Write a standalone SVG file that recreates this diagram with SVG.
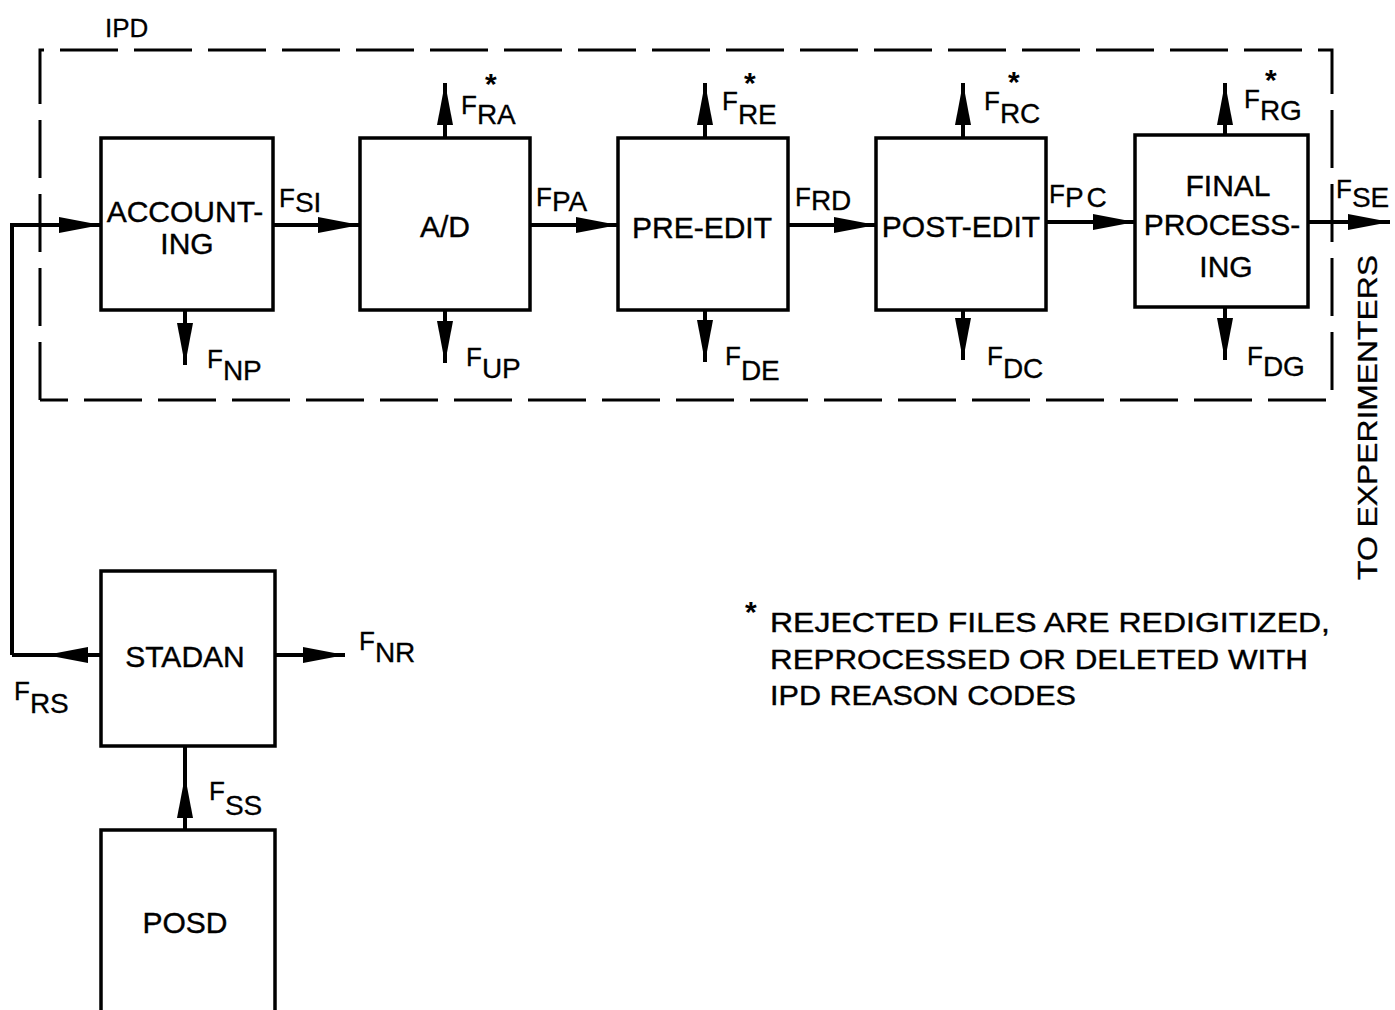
<svg xmlns="http://www.w3.org/2000/svg" width="1395" height="1010" viewBox="0 0 1395 1010">
<style>
  .box{fill:#fff;stroke:#000;stroke-width:3.5}
  .lbl{font-family:"Liberation Sans",Arial,sans-serif;font-size:30px;fill:#000;text-anchor:middle;stroke:#000;stroke-width:0.4}
  .f{font-family:"Liberation Sans",Arial,sans-serif;font-size:26px;fill:#000;stroke:#000;stroke-width:0.3}
  .s{font-size:28px}
  .star{font-family:"Liberation Sans",Arial,sans-serif;font-size:30px;font-weight:bold;fill:#000}
  .note{font-family:"Liberation Sans",Arial,sans-serif;font-size:28px;fill:#000;stroke:#000;stroke-width:0.4}
  .ln{fill:none;stroke:#000;stroke-width:4}
  .dash{fill:none;stroke:#000;stroke-width:3;stroke-dasharray:58 16}
</style>
<defs>
  <marker id="ah" markerUnits="userSpaceOnUse" markerWidth="44" markerHeight="18" refX="42" refY="8" orient="auto">
    <path d="M0,0 L42,8 L0,16 z" fill="#000"/>
  </marker>
</defs>

<g id="ipd-boundary">
  <path class="dash" d="M40,400 L40,50 L1332,50 L1332,400 L40,400"/>
  <text class="f" x="105" y="37">IPD</text>
</g>

<g id="accounting">
  <rect class="box" x="101" y="138" width="172" height="172"/>
  <text class="lbl" x="185" y="222">ACCOUNT-</text>
  <text class="lbl" x="187" y="254">ING</text>
</g>
<g id="ad">
  <rect class="box" x="360" y="138" width="170" height="172"/>
  <text class="lbl" x="445" y="237">A/D</text>
</g>
<g id="pre-edit">
  <rect class="box" x="618" y="138" width="170" height="172"/>
  <text class="lbl" x="702" y="238">PRE-EDIT</text>
</g>
<g id="post-edit">
  <rect class="box" x="876" y="138" width="170" height="172"/>
  <text class="lbl" x="961" y="237">POST-EDIT</text>
</g>
<g id="final-processing">
  <rect class="box" x="1135" y="135" width="173" height="172"/>
  <text class="lbl" x="1228" y="196">FINAL</text>
  <text class="lbl" x="1222" y="235">PROCESS-</text>
  <text class="lbl" x="1226" y="277">ING</text>
</g>
<g id="stadan">
  <rect class="box" x="101" y="571" width="174" height="175"/>
  <text class="lbl" x="185" y="667">STADAN</text>
</g>
<g id="posd">
  <rect class="box" x="101" y="830" width="174" height="185"/>
  <text class="lbl" x="185" y="933">POSD</text>
</g>

<g id="connectors">
  <path class="ln" d="M12,655 L12,225 L101,225" marker-end="url(#ah)"/>
  <path class="ln" d="M273,225 L360,225" marker-end="url(#ah)"/>
  <path class="ln" d="M530,225 L618,225" marker-end="url(#ah)"/>
  <path class="ln" d="M788,225 L876,225" marker-end="url(#ah)"/>
  <path class="ln" d="M1046,222 L1135,222" marker-end="url(#ah)"/>
  <path class="ln" d="M1308,222 L1390,222" marker-end="url(#ah)"/>
  <path class="ln" d="M445,138 L445,83" marker-end="url(#ah)"/>
  <path class="ln" d="M705,138 L705,83" marker-end="url(#ah)"/>
  <path class="ln" d="M963,138 L963,83" marker-end="url(#ah)"/>
  <path class="ln" d="M1225,135 L1225,83" marker-end="url(#ah)"/>
  <path class="ln" d="M185,310 L185,365" marker-end="url(#ah)"/>
  <path class="ln" d="M445,310 L445,363" marker-end="url(#ah)"/>
  <path class="ln" d="M705,310 L705,362" marker-end="url(#ah)"/>
  <path class="ln" d="M963,310 L963,360" marker-end="url(#ah)"/>
  <path class="ln" d="M1225,307 L1225,360" marker-end="url(#ah)"/>
  <path class="ln" d="M101,655 L46,655" marker-end="url(#ah)"/>
  <path class="ln" d="M46,655 L12,655"/>
  <path class="ln" d="M275,655 L345,655" marker-end="url(#ah)"/>
  <path class="ln" d="M185,830 L185,776" marker-end="url(#ah)"/>
  <path class="ln" d="M185,776 L185,746"/>
</g>

<g id="labels">
  <text class="f" x="279" y="207">F<tspan class="s" dy="5">SI</tspan></text>
  <text class="f" x="536" y="206">F<tspan class="s" dy="5">PA</tspan></text>
  <text class="f" x="795" y="206">F<tspan class="s" dy="4">RD</tspan></text>
  <text class="f" x="1049" y="203">F<tspan class="s" dy="4" letter-spacing="3">PC</tspan></text>
  <text class="f" x="1336" y="198">F<tspan class="s" dy="9">SE</tspan></text>

  <text class="f" x="461" y="114">F<tspan class="s" dy="10">RA</tspan></text>
  <text class="star" x="485" y="94">*</text>
  <text class="f" x="722" y="110">F<tspan class="s" dy="14">RE</tspan></text>
  <text class="star" x="744" y="93">*</text>
  <text class="f" x="984" y="110">F<tspan class="s" dy="13">RC</tspan></text>
  <text class="star" x="1008" y="92">*</text>
  <text class="f" x="1244" y="108">F<tspan class="s" dy="12">RG</tspan></text>
  <text class="star" x="1265" y="90">*</text>

  <text class="f" x="207" y="368">F<tspan class="s" dy="12">NP</tspan></text>
  <text class="f" x="466" y="366">F<tspan class="s" dy="12">UP</tspan></text>
  <text class="f" x="725" y="365">F<tspan class="s" dy="15">DE</tspan></text>
  <text class="f" x="987" y="365">F<tspan class="s" dy="13">DC</tspan></text>
  <text class="f" x="1247" y="365">F<tspan class="s" dy="11">DG</tspan></text>

  <text class="f" x="14" y="700">F<tspan class="s" dy="13">RS</tspan></text>
  <text class="f" x="359" y="650">F<tspan class="s" dy="12">NR</tspan></text>
  <text class="f" x="209" y="800">F<tspan class="s" dy="15">SS</tspan></text>

  <text class="f" transform="translate(1377,580) rotate(-90)" x="0" y="0" style="font-size:27px" textLength="325" lengthAdjust="spacingAndGlyphs">TO EXPERIMENTERS</text>
</g>

<g id="note">
  <text class="star" x="745" y="622">*</text>
  <text class="note" x="770" y="632" textLength="560" lengthAdjust="spacingAndGlyphs">REJECTED FILES ARE  REDIGITIZED,</text>
  <text class="note" x="770" y="669" textLength="538" lengthAdjust="spacingAndGlyphs">REPROCESSED OR DELETED WITH</text>
  <text class="note" x="770" y="705" textLength="306" lengthAdjust="spacingAndGlyphs">IPD REASON CODES</text>
</g>
</svg>
